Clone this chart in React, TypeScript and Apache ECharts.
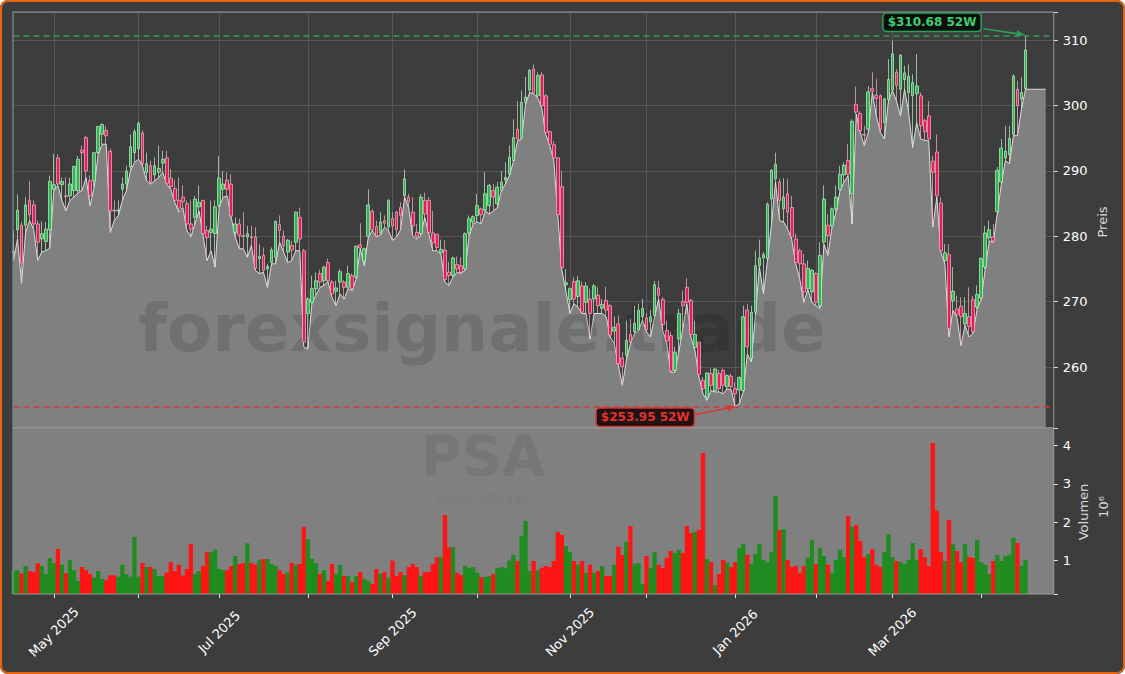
import React, { useEffect, useRef } from "react";
import * as echarts from "echarts";

// ---- Daily OHLC (PSA, trading days from mid-April 2025 to mid-April 2026) ----
const openP = [
  277.4,281.0,281.7,281.7,285.5,284.8,281.9,279.6,279.2,281.0,
  287.2,292.0,287.9,286.2,286.2,287.0,287.0,293.2,295.1,288.5,
  288.5,292.8,295.6,296.2,293.0,284.0,283.9,287.2,288.0,290.6,
  292.8,293.4,295.8,289.8,290.8,289.4,289.8,291.2,292.0,288.9,
  287.3,285.5,286.0,285.0,281.9,282.9,284.5,285.5,280.9,280.6,
  280.4,284.7,287.2,288.6,288.0,280.6,281.9,280.1,279.9,279.9,
  279.9,276.6,277.1,275.0,276.0,276.8,281.8,280.0,277.6,278.6,
  279.1,282.9,277.8,268.2,269.9,272.0,274.3,273.2,276.0,273.0,
  271.6,273.0,273.0,272.2,274.0,273.8,278.7,276.2,280.0,283.8,
  281.5,280.5,282.4,281.4,282.7,283.7,284.4,286.2,286.0,283.7,
  280.6,280.4,285.5,285.5,280.5,280.3,277.5,277.9,274.5,274.0,
  275.7,275.5,275.0,280.5,282.2,283.2,284.2,284.0,284.7,287.0,
  285.0,287.0,288.6,289.5,291.6,296.4,295.0,300.5,302.4,305.6,
  301.5,304.7,301.5,296.0,294.0,292.0,287.6,272.6,270.3,273.1,
  270.8,272.4,269.9,270.4,270.4,271.0,269.0,270.2,269.4,265.5,
  266.6,261.4,261.8,265.0,265.4,265.7,267.7,267.5,266.9,267.9,
  272.1,270.3,265.6,264.8,259.5,264.3,270.0,272.2,270.2,263.0,
  263.8,258.0,255.4,259.0,256.4,259.0,259.5,257.0,258.6,256.7,
  256.5,256.4,268.7,261.3,268.4,275.5,276.7,276.6,285.7,288.8,
  288.3,284.2,286.5,284.4,279.6,277.8,275.8,272.0,271.5,274.3,
  269.4,279.1,281.7,281.6,284.2,287.2,289.4,291.6,286.5,300.2,
  298.8,295.6,296.4,302.6,301.6,301.5,297.4,300.9,302.4,305.1,
  302.5,304.0,302.0,301.5,301.8,301.5,297.7,298.4,291.5,292.9,
  285.1,276.3,277.2,270.2,268.9,269.3,266.6,267.7,270.3,269.2,
  270.6,275.3,279.8,279.9,283.8,288.3,292.0,292.5,295.6,302.5,
  301.0,302.6,
];
const highP = [
  280.9,286.4,282.2,286.0,288.5,285.5,282.4,282.3,282.2,289.3,
  292.6,292.6,289.0,289.0,289.0,290.8,292.3,293.9,295.4,289.3,
  292.8,296.9,297.3,296.9,293.4,285.5,285.5,289.0,290.8,295.6,
  296.4,297.6,296.2,292.8,291.6,292.1,293.9,293.1,293.1,290.3,
  288.6,289.0,287.8,285.5,285.5,286.2,287.8,285.6,281.6,285.5,
  285.5,292.3,290.0,289.8,289.5,282.9,282.7,283.7,281.6,281.6,
  281.4,278.8,278.3,275.8,278.3,282.4,283.2,280.9,279.6,279.3,
  283.8,284.4,278.1,270.7,274.0,274.5,274.9,275.5,276.6,273.3,
  273.2,275.0,273.3,275.5,274.3,278.6,282.0,278.3,287.2,284.2,
  282.4,283.7,283.2,285.7,283.7,283.9,285.2,290.2,286.5,286.0,
  281.9,286.5,286.7,286.0,283.9,280.4,279.5,279.4,276.1,276.9,
  276.9,276.8,280.6,283.2,283.2,286.5,284.4,289.8,288.0,288.0,
  288.3,290.0,291.3,293.9,297.9,300.7,302.3,304.4,305.6,306.3,
  305.1,305.2,301.8,296.2,294.6,292.1,290.0,275.0,272.2,273.8,
  273.9,273.1,273.0,272.0,272.7,272.2,270.4,272.3,269.7,267.7,
  267.9,262.3,267.1,267.4,269.4,269.7,270.4,268.2,268.7,273.2,
  273.2,270.7,267.1,265.4,263.1,268.9,271.7,273.6,270.4,267.1,
  263.8,258.5,259.2,259.8,259.8,259.6,259.8,258.9,259.0,257.7,
  258.6,269.4,269.7,269.4,277.8,279.5,277.6,285.2,290.3,292.8,
  288.8,288.9,288.8,286.2,280.4,278.1,277.3,276.3,275.0,274.5,
  279.1,287.8,283.4,284.4,287.8,290.8,291.3,294.1,297.9,302.9,
  299.2,296.9,303.0,305.1,304.1,301.7,301.2,307.1,309.9,305.6,
  307.9,306.1,306.3,304.8,307.9,302.0,298.0,300.7,292.3,295.6,
  286.0,278.8,278.8,275.3,270.9,270.7,270.7,272.2,270.9,272.5,
  276.8,281.6,282.4,281.9,290.6,294.9,296.9,296.9,304.8,303.8,
  304.3,310.68,
];
const lowP = [
  276.3,279.6,272.8,280.6,282.4,281.1,276.3,277.6,277.8,278.2,
  287.0,287.8,285.5,283.9,285.5,286.0,286.7,287.0,289.0,284.7,
  287.5,292.6,294.1,294.1,280.6,282.4,283.2,285.5,287.0,290.0,
  291.3,291.8,290.8,288.5,288.0,288.5,289.0,289.8,288.0,287.2,
  285.2,283.7,284.4,280.9,279.9,281.9,283.9,280.2,276.3,277.8,
  275.3,284.4,286.0,286.2,282.9,279.9,278.1,278.1,276.8,278.6,
  274.8,274.3,274.5,272.2,275.8,275.8,279.1,277.6,276.0,276.3,
  277.8,277.8,263.1,262.8,269.7,271.0,272.2,272.5,273.1,270.7,
  269.4,271.2,270.4,272.0,271.7,273.5,278.1,275.5,279.9,280.9,
  279.9,280.2,281.4,280.9,279.4,279.9,281.0,286.0,284.4,280.1,
  279.6,280.1,282.9,280.4,277.8,277.8,277.3,273.0,272.5,273.8,
  274.5,274.3,274.8,280.1,281.9,282.2,281.9,283.9,283.4,283.9,
  284.4,287.0,288.0,289.3,291.5,294.6,294.9,300.2,302.0,301.8,
  301.2,299.7,295.6,293.9,291.6,283.2,274.8,271.7,268.2,269.7,
  269.2,268.2,268.2,264.3,268.2,268.2,268.2,267.7,264.6,263.6,
  260.3,257.2,261.0,263.6,265.1,265.6,267.2,265.4,264.6,267.7,
  270.4,265.6,263.8,259.2,259.2,262.3,265.9,269.7,264.6,262.6,
  258.5,255.9,254.9,256.4,256.2,256.2,255.9,256.7,256.5,253.95,
  254.4,256.2,262.0,260.8,267.9,275.3,271.2,276.3,281.9,288.3,
  282.4,282.2,281.1,279.6,275.8,273.5,269.9,271.9,269.9,269.4,
  269.0,278.8,277.1,281.4,283.7,287.0,288.3,289.3,281.9,298.7,
  295.9,293.9,295.9,302.0,298.4,295.9,294.9,300.7,302.3,300.7,
  298.4,302.5,299.0,293.6,297.4,294.9,294.7,294.6,281.4,286.0,
  277.6,275.8,264.6,268.7,267.6,263.3,266.4,264.6,265.2,268.9,
  270.3,275.0,279.3,279.1,283.5,288.0,291.6,291.1,295.4,295.4,
  299.5,302.5,
];
const closeP = [
  277.7,284.0,275.9,284.8,283.3,281.9,279.1,280.4,281.1,288.4,
  287.9,288.0,288.4,286.1,288.0,290.7,291.8,292.8,290.0,286.2,
  292.8,296.8,297.1,295.4,283.9,283.9,284.0,288.0,290.0,293.7,
  296.0,297.3,291.1,291.1,288.3,290.8,290.4,291.8,288.1,287.6,
  285.5,284.3,285.3,281.9,281.1,285.7,285.2,280.4,279.8,281.1,
  284.5,288.9,288.0,287.2,283.1,281.9,280.2,280.0,280.4,279.8,
  275.1,276.9,274.8,275.4,277.9,282.3,280.9,278.6,279.4,277.9,
  283.7,279.6,263.8,270.4,272.0,273.2,273.0,275.3,273.2,271.2,
  272.1,274.6,272.2,274.3,272.0,278.5,278.2,278.1,284.8,281.0,
  280.0,282.2,282.0,285.5,281.6,281.0,283.2,288.8,285.3,281.6,
  280.0,286.0,283.4,280.6,279.0,278.3,278.0,273.4,274.0,276.7,
  275.0,274.5,280.4,282.7,283.0,284.7,283.3,286.5,287.8,286.0,
  287.5,288.3,289.0,292.1,295.1,294.9,300.5,301.3,305.4,301.9,
  304.6,300.0,295.9,294.1,292.0,283.3,275.2,272.9,272.0,270.4,
  273.2,268.4,272.4,268.2,272.4,269.4,269.6,268.7,264.9,266.1,
  260.5,260.1,264.1,263.8,266.7,268.7,269.0,265.7,267.7,272.6,
  271.0,266.5,264.0,259.4,262.3,268.2,269.4,269.9,265.0,265.0,
  258.9,256.7,259.1,257.2,259.7,256.7,257.2,258.7,257.0,255.9,
  258.4,267.7,263.1,268.4,275.5,276.7,277.2,284.9,290.1,291.0,
  285.5,286.0,283.7,279.9,276.0,275.8,271.5,275.1,274.8,269.9,
  277.1,285.7,280.1,284.2,286.0,289.5,290.9,289.5,297.6,299.0,
  296.2,295.5,302.1,302.2,301.1,296.4,301.0,304.0,307.9,303.1,
  307.7,305.0,304.5,303.5,303.0,296.9,296.0,294.9,289.8,286.2,
  277.8,277.5,265.9,271.6,268.0,267.7,268.2,266.2,265.4,271.1,
  276.6,280.5,281.0,279.3,290.1,293.5,293.0,295.0,304.5,300.0,
  302.0,308.5,
];
// Volume in millions of shares
const volumeM = [
  0.74,0.75,0.67,0.86,0.73,0.70,0.93,0.86,0.65,1.07,
  0.93,1.30,0.89,0.67,1.02,0.75,0.47,0.83,0.75,0.65,
  0.55,0.73,0.52,0.49,0.62,0.62,0.58,0.89,0.65,0.58,
  1.62,0.58,0.94,0.83,0.83,0.78,0.60,0.60,0.69,0.96,
  0.73,0.89,0.61,0.78,1.43,0.65,0.73,0.86,1.22,1.22,
  1.28,0.78,0.75,0.75,0.86,1.12,0.91,0.94,1.45,0.94,
  0.89,1.02,1.04,1.04,0.91,0.86,0.75,0.65,0.70,0.94,
  0.89,0.91,1.88,1.56,1.04,0.93,0.65,0.75,0.47,0.91,
  0.65,0.89,0.60,0.60,0.44,0.60,0.70,0.52,0.47,0.39,
  0.78,0.65,0.70,0.55,1.00,0.60,0.70,0.62,0.83,0.91,
  0.83,0.60,0.70,0.70,0.91,1.09,1.09,2.19,1.34,1.35,
  0.68,0.62,0.86,0.81,0.83,0.68,0.57,0.57,0.60,0.65,
  0.81,0.83,0.80,1.00,1.15,0.99,1.64,2.03,0.73,0.99,
  0.75,0.81,0.86,0.83,0.99,1.75,1.67,1.38,1.22,0.99,
  0.89,0.99,0.68,0.89,0.68,0.73,0.86,0.60,0.60,0.89,
  1.36,1.15,1.49,1.90,0.91,0.94,0.39,1.12,0.81,1.22,
  0.89,0.81,1.07,1.25,1.20,1.28,1.20,1.90,1.72,1.75,
  1.80,3.81,1.04,0.96,0.36,0.65,1.02,0.94,0.83,0.96,
  1.33,1.43,1.15,0.91,1.17,1.43,1.02,0.96,1.22,2.69,
  1.80,1.82,1.02,0.83,0.86,0.68,0.86,1.07,1.54,0.91,
  1.33,1.12,0.89,0.68,1.02,1.28,1.09,2.16,1.88,1.93,
  1.51,1.09,1.17,1.30,0.89,0.83,1.22,1.69,1.09,0.99,
  0.96,0.91,1.02,1.46,1.02,1.30,1.09,0.86,4.07,2.30,
  1.22,0.99,2.06,1.43,1.25,0.96,1.43,1.09,1.07,1.54,
  0.96,0.89,0.65,0.99,1.15,0.99,1.12,1.15,1.59,1.46,
  0.86,1.02,
];
// first trading day of each month (index into the arrays above)
const monthStartIdx = [10, 31, 51, 73, 94, 115, 138, 157, 179, 199, 218, 240];
const monthNames = [
  "May 2025", "Jun 2025", "Jul 2025", "Aug 2025", "Sep 2025", "Oct 2025",
  "Nov 2025", "Dec 2025", "Jan 2026", "Feb 2026", "Mar 2026", "Apr 2026",
];
const labeledMonths = ["May 2025", "Jul 2025", "Sep 2025", "Nov 2025", "Jan 2026", "Mar 2026"];
const priceTicks = [260, 270, 280, 290, 300, 310];
const volumeTicks = [1, 2, 3, 4];

const TOTAL_SLOTS = 259; // trading days + empty room on the right
const FILL_TAIL = 5; // the grey fill runs a few slots past the last candle
const PRICE_MIN = 250.68;
const PRICE_MAX = 314.32;
const VOL_MIN = 0.128;
const VOL_MAX = 4.46;

const GL = 13.5;
const SLOT = 4.032;
const GW = SLOT * (TOTAL_SLOTS - 1);
const PT = 12, PH = 416, VT = 428, VH = 166;

const FONT = '"DejaVu Sans"';
const UP_BODY = "#2cb84c";
const DOWN_BODY = "#e41f57";
const UP_EDGE = "#c4f0cd";
const DOWN_EDGE = "#f4b8c8";
const VOL_UP = "#1e8c1e";
const VOL_DOWN = "#ff1414";

export default function App() {
  const ref = useRef<HTMLDivElement>(null);

  useEffect(() => {
    if (!ref.current) return;
    const chart = echarts.init(ref.current, undefined, { renderer: "svg" });
    const n = closeP.length;
    const cats = Array.from({ length: TOTAL_SLOTS }, (_, i) => String(i));
    const monthMap: Record<number, string> = {};
    monthStartIdx.forEach((idx, k) => (monthMap[idx] = monthNames[k]));
    const isMonth = (i: number) => monthMap[i] !== undefined;
    const isLabeled = (i: number) => isMonth(i) && labeledMonths.includes(monthMap[i]);

    const candles = closeP.map((c, i) => [openP[i], c, lowP[i], highP[i]]);
    const lowLine: number[] = [...lowP];
    for (let k = 0; k < FILL_TAIL; k++) lowLine.push(lowP[n - 1]);
    const volData = volumeM.map((v, i) => ({
      value: v,
      itemStyle: { color: closeP[i] >= openP[i] ? VOL_UP : VOL_DOWN },
    }));

    let iMax = 0, iMin = 0;
    highP.forEach((h, i) => { if (h > highP[iMax]) iMax = i; });
    lowP.forEach((l, i) => { if (l < lowP[iMin]) iMin = i; });
    const maxHigh = highP[iMax];
    const minLow = lowP[iMin];

    const option: any = {
      animation: false,
      textStyle: { fontFamily: FONT },
      grid: [
        { left: GL, top: PT, width: GW, height: PH, show: false },
        { left: GL, top: VT, width: GW, height: VH, show: true, backgroundColor: "#808080", borderWidth: 0 },
      ],
      xAxis: [
        {
          type: "category", gridIndex: 0, data: cats, boundaryGap: false,
          axisLine: { show: false }, axisTick: { show: false }, axisLabel: { show: false },
          splitLine: { show: true, interval: (i: number) => isMonth(i), lineStyle: { color: "#575757", width: 1 } },
        },
        {
          type: "category", gridIndex: 1, data: cats, boundaryGap: false,
          axisLine: { show: false },
          axisTick: { show: true, interval: (i: number) => isMonth(i), length: 4, lineStyle: { color: "#e6e6e6" } },
          axisLabel: {
            interval: (i: number) => isLabeled(i),
            formatter: (_v: string, i: number) => monthMap[i] || "",
            rotate: 45, align: "center", verticalAlign: "middle", margin: 38,
            color: "#ffffff", fontSize: 13, fontFamily: FONT,
          },
          splitLine: { show: false },
        },
      ],
      yAxis: [
        {
          type: "value", gridIndex: 0, position: "right", min: PRICE_MIN, max: PRICE_MAX, splitNumber: 6,
          axisLine: { show: false },
          axisTick: { show: true, length: 4, lineStyle: { color: "#e6e6e6" } },
          axisLabel: {
            color: "#ffffff", fontSize: 13, margin: 9, fontFamily: FONT,
            formatter: (v: number) => (priceTicks.includes(Math.round(v)) && Math.abs(v - Math.round(v)) < 1e-6 ? String(Math.round(v)) : ""),
          },
          splitLine: { show: true, lineStyle: { color: "#575757", width: 1 } },
        },
        {
          type: "value", gridIndex: 1, position: "right", min: VOL_MIN, max: VOL_MAX, splitNumber: 4,
          axisLine: { show: false },
          axisTick: { show: true, length: 4, lineStyle: { color: "#e6e6e6" } },
          axisLabel: {
            color: "#ffffff", fontSize: 13, margin: 9, fontFamily: FONT,
            formatter: (v: number) => (volumeTicks.includes(Math.round(v)) && Math.abs(v - Math.round(v)) < 1e-6 ? String(Math.round(v)) : ""),
          },
          splitLine: { show: false },
        },
      ],
      series: [
        {
          type: "line", xAxisIndex: 0, yAxisIndex: 0, data: lowLine, symbol: "none", silent: true, z: 1,
          lineStyle: { color: "rgba(235,235,235,0.9)", width: 1 },
          areaStyle: { color: "#808080", opacity: 1, origin: "start" },
        },
        {
          type: "candlestick", xAxisIndex: 0, yAxisIndex: 0, data: candles, barWidth: 3.2, z: 3, clip: false,
          itemStyle: { color: UP_BODY, color0: DOWN_BODY, borderColor: UP_EDGE, borderColor0: DOWN_EDGE, borderWidth: 0.7 },
          markLine: {
            silent: true, symbol: ["none", "none"], label: { show: false }, animation: false,
            data: [
              { yAxis: maxHigh, lineStyle: { color: "#2f9e58", type: [6, 4], width: 1.5 } },
              { yAxis: minLow, lineStyle: { color: "#d23a3a", type: [6, 4], width: 1.5 } },
            ],
          },
        },
        {
          type: "bar", xAxisIndex: 1, yAxisIndex: 1, data: volData, barWidth: 4.3, z: 3, silent: true,
        },
      ],
    };
    chart.setOption(option);

    const hp = chart.convertToPixel({ xAxisIndex: 0, yAxisIndex: 0 }, [iMax, maxHigh]) as number[];
    const lp = chart.convertToPixel({ xAxisIndex: 0, yAxisIndex: 0 }, [iMin, minLow]) as number[];

    const arrow = (x1: number, y1: number, x2: number, y2: number, color: string) => {
      const ang = Math.atan2(y2 - y1, x2 - x1);
      const L = 8, W = 3.5;
      const bx = x2 - L * Math.cos(ang), by = y2 - L * Math.sin(ang);
      return [
        { type: "line", z: 20, silent: true, shape: { x1, y1, x2: bx, y2: by }, style: { stroke: color, lineWidth: 1.6 } },
        {
          type: "polygon", z: 20, silent: true,
          shape: { points: [[x2, y2], [bx - W * Math.sin(ang), by + W * Math.cos(ang)], [bx + W * Math.sin(ang), by - W * Math.cos(ang)]] },
          style: { fill: color },
        },
      ];
    };

    const graphic: any[] = [
      {
        type: "text", x: 482, y: 328, z: 2, silent: true,
        style: { text: "forexsignale.trade", font: `bold 66px ${FONT}`, fill: "rgba(0,0,0,0.12)", align: "center", verticalAlign: "middle" },
      },
      {
        type: "text", x: 483, y: 455, z: 2, silent: true,
        style: { text: "PSA", font: `bold 56px ${FONT}`, fill: "rgba(0,0,0,0.08)", align: "center", verticalAlign: "middle" },
      },
      {
        type: "text", x: 483, y: 497, z: 2, silent: true,
        style: { text: "Public Storage", font: `13px ${FONT}`, fill: "rgba(0,0,0,0.08)", align: "center", verticalAlign: "middle" },
      },
      {
        type: "rect", z: 6, silent: true, shape: { x: GL - 0.5, y: PT, width: GW + 0.5, height: PH },
        style: { fill: "none", stroke: "#9a9a9a", lineWidth: 1 },
      },
      {
        type: "rect", z: 6, silent: true, shape: { x: GL - 0.5, y: VT, width: GW + 0.5, height: VH },
        style: { fill: "none", stroke: "#9a9a9a", lineWidth: 1 },
      },
      {
        type: "text", x: 1102, y: 222, rotation: Math.PI / 2, z: 6, silent: true,
        style: { text: "Preis", font: `13px ${FONT}`, fill: "#d9d9d9", align: "center", verticalAlign: "middle" },
      },
      {
        type: "text", x: 1083, y: 512, rotation: Math.PI / 2, z: 6, silent: true,
        style: { text: "Volumen", font: `13px ${FONT}`, fill: "#d9d9d9", align: "center", verticalAlign: "middle" },
      },
      {
        type: "text", x: 1103, y: 507, rotation: Math.PI / 2, z: 6, silent: true,
        style: { text: "10\u2076", font: `13px ${FONT}`, fill: "#d9d9d9", align: "center", verticalAlign: "middle" },
      },
      {
        type: "text", x: hp[0] - 93.5, y: hp[1] - 13.6, z: 21, silent: true,
        style: {
          text: `$${maxHigh.toFixed(2)} 52W`, font: `bold 12px ${FONT}`, fill: "#3ccf72",
          align: "center", verticalAlign: "middle", backgroundColor: "rgba(8,8,8,0.9)",
          borderColor: "#2f9e58", borderWidth: 1.5, borderRadius: 3, padding: [3, 4, 2, 4],
        },
      },
      ...arrow(hp[0] - 42, hp[1] - 7, hp[0] - 1, hp[1] - 1, "#2f9e58"),
      {
        type: "text", x: lp[0] - 90, y: lp[1] + 10.7, z: 21, silent: true,
        style: {
          text: `$${minLow.toFixed(2)} 52W`, font: `bold 12px ${FONT}`, fill: "#e53030",
          align: "center", verticalAlign: "middle", backgroundColor: "rgba(20,8,8,0.9)",
          borderColor: "#d23a3a", borderWidth: 1.5, borderRadius: 3, padding: [3, 4, 2, 4],
        },
      },
      ...arrow(lp[0] - 40, lp[1] + 8, lp[0], lp[1], "#d23a3a"),
    ];
    chart.setOption({ graphic });

    return () => chart.dispose();
  }, []);

  return (
    <div style={{ position: "fixed", left: 0, top: 0, width: 1125, height: 674, background: "#3d3d3d", borderRadius: 8, overflow: "hidden" }}>
      <div ref={ref} style={{ position: "absolute", left: 0, top: 0, width: 1125, height: 674 }} />
      <div style={{ position: "absolute", left: 0, top: 0, width: 1125, height: 674, boxSizing: "border-box", border: "2.5px solid #e8650e", borderRadius: 8, pointerEvents: "none" }} />
    </div>
  );
}
